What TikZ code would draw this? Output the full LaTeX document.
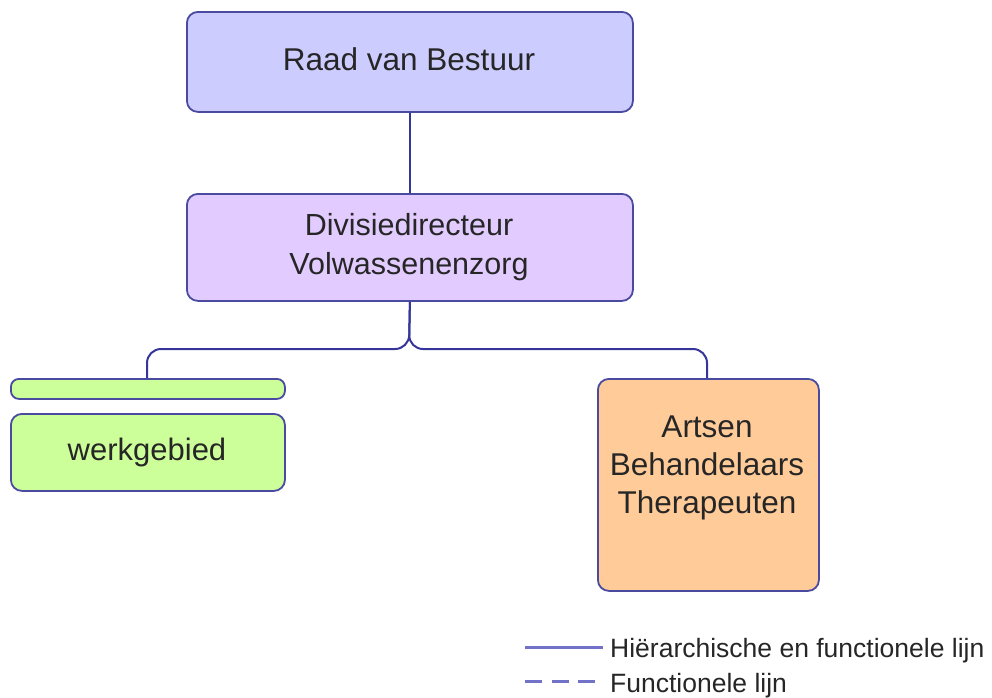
\documentclass[tikz,border=0pt]{standalone}
\usepackage{fontspec}
\setmainfont{Liberation Sans}
% #1 font size, #2 line spacing, #3 centred lines
\newcommand{\boxtext}[3]{{\fontsize{#1}{#2}\selectfont
  \renewcommand{\arraystretch}{1}\begin{tabular}[t]{@{}c@{}}#3\end{tabular}}}
\begin{document}
\begin{tikzpicture}[x=1pt,y=-1pt,
  box/.style={draw=boxline,line width=1.8pt,rounded corners=11pt,inner sep=0pt,anchor=north west},
  lbl/.style={anchor=base,text=black!85,inner sep=0pt},
  conn/.style={draw=connline,line width=2pt,rounded corners=14pt},
  legline/.style={draw=legcol,line width=3pt},
  legtext/.style={anchor=base west,inner sep=0pt,text=black!85,font=\fontsize{26.5}{30}\selectfont}]
\definecolor{boxline}{HTML}{4A4AA0}
\definecolor{connline}{HTML}{35359A}
\definecolor{legcol}{HTML}{7272C8}
\useasboundingbox (0,0) rectangle (992,697);
% organisation boxes
\node[box,fill={rgb,255:red,204;green,204;blue,255},minimum width=446pt,minimum height=100pt] (raad) at (186,11) {};
\node[lbl] (raadt) at (409,70) {\boxtext{31.5}{36}{Raad van Bestuur}};
\node[box,fill={rgb,255:red,226;green,204;blue,255},minimum width=446pt,minimum height=107pt] (div) at (186,193) {};
\node[lbl] (divt) at (409,235) {\boxtext{30.5}{39}{Divisiedirecteur\\Volwassenenzorg}};
\node[box,fill={rgb,255:red,204;green,255;blue,153},minimum width=274pt,minimum height=20pt,rounded corners=8pt] (bar) at (10,378) {};
\node[box,fill={rgb,255:red,204;green,255;blue,153},minimum width=274pt,minimum height=77pt] (werk) at (10,413) {};
\node[lbl] (werkt) at (147,460) {\boxtext{31}{36}{werkgebied}};
\node[box,fill={rgb,255:red,255;green,204;blue,153},minimum width=221pt,minimum height=212pt] (arts) at (597,378) {};
\node[lbl] (artst) at (707,437) {\boxtext{31.5}{38}{Artsen\\Behandelaars\\Therapeuten}};
% connectors
\draw[conn] (raad.south) -- (div.north);
\coordinate (split) at (409,349);
\coordinate (lefttop) at (147,378);
\coordinate (righttop) at (707,378);
\draw[conn] (div.south) -- (split) -| (lefttop);
\draw[conn] (div.south) -- (split) -| (righttop);
% legend
\coordinate (l1a) at (525,647); \coordinate (l1b) at (603,647);
\coordinate (l2a) at (525,681); \coordinate (l2b) at (603,681);
\draw[legline] (l1a) -- (l1b);
\draw[legline,dash pattern=on 17pt off 9.5pt] (l2a) -- (l2b);
\node[legtext] (t1) at (610,657) {Hiërarchische en functionele lijn};
\node[legtext] (t2) at (610,692) {Functionele lijn};
\end{tikzpicture}
\end{document}
